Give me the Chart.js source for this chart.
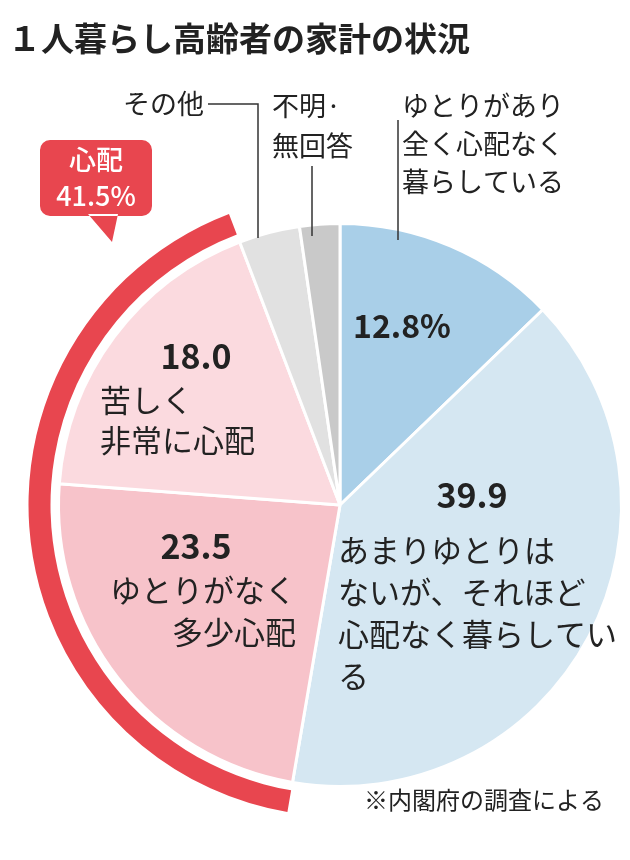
<!DOCTYPE html>
<html>
<head>
<meta charset="utf-8">
<script src="https://cdn.jsdelivr.net/npm/chart.js@4"></script>
<style>
  body { margin: 0; background: #fff; }
  #wrap { position: relative; width: 630px; height: 860px; }
</style>
</head>
<body>
<div id="wrap"><canvas id="pie" width="630" height="860"></canvas></div>
<script>
// データ
const categories = ["ゆとりがあり全く心配なく暮らしている", "あまりゆとりはないが、それほど心配なく暮らしている",
  "ゆとりがなく多少心配", "苦しく非常に心配", "その他", "不明・無回答"];
const shares = [12.8, 39.9, 23.5, 18.0, 3.5, 2.3];
const colors = ["#a9cfe8", "#d5e7f2", "#f7c3ca", "#fbdadf", "#e1e1e1", "#c9c9c9"];
const worryTotal = "41.5%";
const FONT = "'Noto Sans CJK JP', 'Noto Sans', sans-serif";

// ラベルとリード線、赤い弧
const labelPlugin = {
  id: "labels",
  afterDatasetsDraw(chart) {
    const ctx = chart.ctx;
    const arcs = chart.getDatasetMeta(0).data;
    const a = arcs[2], b = arcs[3];
    // 心配の赤い弧
    ctx.save();
    ctx.beginPath();
    ctx.arc(a.x, a.y, a.outerRadius + 8, a.startAngle, b.endAngle);
    ctx.arc(a.x, a.y, a.outerRadius + 30, b.endAngle, a.startAngle, true);
    ctx.closePath();
    ctx.fillStyle = "#e8464f";
    ctx.fill();

    // 吹き出し
    ctx.beginPath();
    ctx.roundRect(40, 140, 112, 76, 10);
    ctx.moveTo(88, 214); ctx.lineTo(112, 242); ctx.lineTo(118, 214);
    ctx.fill();
    ctx.fillStyle = "#fff";
    ctx.textAlign = "center";
    ctx.textBaseline = "middle";
    ctx.font = "500 27px " + FONT;
    ctx.fillText("心配", 96, 160);
    ctx.fillText(worryTotal, 96, 196);

    // リード線
    ctx.strokeStyle = "#333";
    ctx.lineWidth = 1.5;
    ctx.beginPath();
    ctx.moveTo(208, 104); ctx.lineTo(258, 104); ctx.lineTo(258, 238);
    ctx.moveTo(312, 166); ctx.lineTo(312, 236);
    ctx.moveTo(398, 120); ctx.lineTo(398, 240);
    ctx.stroke();

    ctx.fillStyle = "#222";
    const txt = (s, x, y, align, size, weight) => {
      ctx.textAlign = align;
      ctx.font = (weight || "400") + " " + size + "px " + FONT;
      ctx.fillText(s, x, y);
    };
    txt("１人暮らし高齢者の家計の状況", 8, 38, "left", 33, "700");
    txt("その他", 204, 104, "right", 27);
    txt("不明·", 272, 106, "left", 27);
    txt("無回答", 272, 146, "left", 27);
    txt("ゆとりがあり", 402, 106, "left", 27);
    txt("全く心配なく", 402, 144, "left", 27);
    txt("暮らしている", 402, 182, "left", 27);

    txt(shares[0].toFixed(1) + "%", 402, 326, "center", 32, "700");
    txt(shares[1].toFixed(1), 472, 495, "center", 34, "700");
    txt("あまりゆとりは", 338, 550, "left", 31);
    txt("ないが、それほど", 338, 592, "left", 31);
    txt("心配なく暮らしてい", 338, 634, "left", 31);
    txt("る", 338, 676, "left", 31);
    txt(shares[2].toFixed(1), 196, 546, "center", 34, "700");
    txt("ゆとりがなく", 296, 590, "right", 31);
    txt("多少心配", 296, 632, "right", 31);
    txt(shares[3].toFixed(1), 196, 356, "center", 34, "700");
    txt("苦しく", 100, 400, "left", 31);
    txt("非常に心配", 100, 440, "left", 31);
    txt("※内閣府の調査による", 604, 800, "right", 24);
    ctx.restore();
  }
};

new Chart(document.getElementById("pie"), {
  type: "pie",
  data: {
    labels: categories,
    datasets: [{ data: shares, backgroundColor: colors, borderColor: "#fff", borderWidth: 3 }]
  },
  options: {
    responsive: false,
    animation: false,
    layout: { padding: { left: 57, right: 7, top: 222, bottom: 72 } },
    plugins: {
      legend: { display: false },
      tooltip: { enabled: false }
    }
  },
  plugins: [labelPlugin]
});
</script>
</body>
</html>
